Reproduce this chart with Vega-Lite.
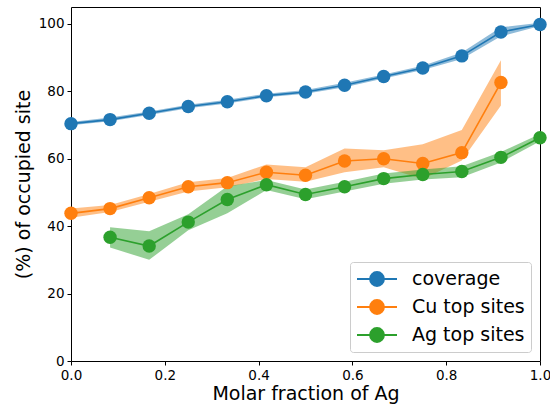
{
  "$schema": "https://vega.github.io/schema/vega-lite/v6.json",
  "width": 469,
  "height": 354,
  "autosize": {"type": "none"},
  "padding": {"left": 71, "top": 7, "right": 10, "bottom": 45},
  "config": {
    "font": "DejaVu Sans",
    "view": {"stroke": "black", "strokeWidth": 1},
    "axis": {
      "grid": false, "domain": false, "tickColor": "black", "tickSize": 4,
      "labelColor": "black", "labelFontSize": 13.5, "labelFont": "DejaVu Sans", "labelPadding": 3,
      "titleFont": "DejaVu Sans", "titleFontSize": 19, "titleFontWeight": "normal", "titleColor": "black"
    }
  },
  "data": {"values": [
    {"s": "coverage", "x": 0.0, "y": 70.4, "lo": 69.9, "hi": 70.9},
    {"s": "coverage", "x": 0.0833, "y": 71.6, "lo": 71.1, "hi": 72.2},
    {"s": "coverage", "x": 0.1667, "y": 73.5, "lo": 73.0, "hi": 74.0},
    {"s": "coverage", "x": 0.25, "y": 75.5, "lo": 75.0, "hi": 76.0},
    {"s": "coverage", "x": 0.3333, "y": 76.9, "lo": 76.4, "hi": 77.5},
    {"s": "coverage", "x": 0.4167, "y": 78.7, "lo": 78.2, "hi": 79.3},
    {"s": "coverage", "x": 0.5, "y": 79.8, "lo": 79.3, "hi": 80.4},
    {"s": "coverage", "x": 0.5833, "y": 81.8, "lo": 81.2, "hi": 82.5},
    {"s": "coverage", "x": 0.6667, "y": 84.4, "lo": 83.8, "hi": 85.0},
    {"s": "coverage", "x": 0.75, "y": 86.9, "lo": 86.3, "hi": 87.6},
    {"s": "coverage", "x": 0.8333, "y": 90.5, "lo": 89.6, "hi": 91.5},
    {"s": "coverage", "x": 0.9167, "y": 97.6, "lo": 96.3, "hi": 99.0},
    {"s": "coverage", "x": 1.0, "y": 99.8, "lo": 99.4, "hi": 100.3},
    {"s": "Cu top sites", "x": 0.0, "y": 43.8, "lo": 42.5, "hi": 45.2},
    {"s": "Cu top sites", "x": 0.0833, "y": 45.2, "lo": 44.2, "hi": 46.3},
    {"s": "Cu top sites", "x": 0.1667, "y": 48.4, "lo": 47.2, "hi": 49.5},
    {"s": "Cu top sites", "x": 0.25, "y": 51.7, "lo": 50.3, "hi": 53.0},
    {"s": "Cu top sites", "x": 0.3333, "y": 52.9, "lo": 51.5, "hi": 54.3},
    {"s": "Cu top sites", "x": 0.4167, "y": 56.0, "lo": 54.0, "hi": 58.3},
    {"s": "Cu top sites", "x": 0.5, "y": 55.1, "lo": 53.2, "hi": 57.5},
    {"s": "Cu top sites", "x": 0.5833, "y": 59.3, "lo": 56.0, "hi": 63.0},
    {"s": "Cu top sites", "x": 0.6667, "y": 60.0, "lo": 57.5, "hi": 62.5},
    {"s": "Cu top sites", "x": 0.75, "y": 58.6, "lo": 54.0, "hi": 64.3},
    {"s": "Cu top sites", "x": 0.8333, "y": 61.8, "lo": 59.5, "hi": 68.5},
    {"s": "Cu top sites", "x": 0.9167, "y": 82.6, "lo": 75.8, "hi": 89.2},
    {"s": "Ag top sites", "x": 0.0833, "y": 36.7, "lo": 33.7, "hi": 39.7},
    {"s": "Ag top sites", "x": 0.1667, "y": 34.1, "lo": 30.0, "hi": 38.5},
    {"s": "Ag top sites", "x": 0.25, "y": 41.2, "lo": 38.8, "hi": 43.5},
    {"s": "Ag top sites", "x": 0.3333, "y": 47.9, "lo": 43.8, "hi": 51.8},
    {"s": "Ag top sites", "x": 0.4167, "y": 52.3, "lo": 50.7, "hi": 53.7},
    {"s": "Ag top sites", "x": 0.5, "y": 49.4, "lo": 48.0, "hi": 50.9},
    {"s": "Ag top sites", "x": 0.5833, "y": 51.7, "lo": 50.3, "hi": 53.2},
    {"s": "Ag top sites", "x": 0.6667, "y": 54.1, "lo": 52.6, "hi": 55.6},
    {"s": "Ag top sites", "x": 0.75, "y": 55.3, "lo": 53.8, "hi": 56.8},
    {"s": "Ag top sites", "x": 0.8333, "y": 56.2, "lo": 54.5, "hi": 57.8},
    {"s": "Ag top sites", "x": 0.9167, "y": 60.4, "lo": 58.9, "hi": 62.0},
    {"s": "Ag top sites", "x": 1.0, "y": 66.2, "lo": 65.2, "hi": 67.3}
  ]},
  "encoding": {
    "x": {"field": "x", "type": "quantitative",
      "scale": {"domain": [0, 1], "nice": false, "zero": false},
      "axis": {"title": "Molar fraction of Ag", "values": [0, 0.2, 0.4, 0.6, 0.8, 1.0], "format": ".1f", "titlePadding": 3, "labelFlush": false}},
    "color": {"field": "s", "type": "nominal",
      "scale": {"domain": ["coverage", "Cu top sites", "Ag top sites"], "range": ["#1f77b4", "#ff7f0e", "#2ca02c"]},
      "legend": {
        "title": null, "orient": "bottom-right", "offset": 9,
        "labelFontSize": 19, "labelFont": "DejaVu Sans", "labelColor": "black",
        "symbolType": "M -2 0 L 2 0 M 0.7 0 A 0.7 0.7 0 1 1 -0.7 0 A 0.7 0.7 0 1 1 0.7 0 Z",
        "symbolSize": 400, "symbolOffset": 10, "labelOffset": 24, "symbolStrokeWidth": 1.8,
        "symbolOpacity": 1, "rowPadding": 6, "padding": 6,
        "strokeColor": "#cccccc", "fillColor": "white", "cornerRadius": 3,
        "encode": {"symbols": {"update": {
          "fill": {"scale": "color", "field": "value"},
          "stroke": {"scale": "color", "field": "value"},
          "opacity": {"value": 1},
          "fillOpacity": {"value": 1},
          "strokeOpacity": {"value": 1}
        }}}
      }}
  },
  "layer": [
    {
      "mark": {"type": "area", "opacity": 0.5},
      "encoding": {
        "y": {"field": "lo", "type": "quantitative",
          "scale": {"domain": [0, 105], "nice": false},
          "axis": {"title": "(%) of occupied site", "values": [0, 20, 40, 60, 80, 100], "titlePadding": 5}},
        "y2": {"field": "hi"}
      }
    },
    {
      "mark": {"type": "line", "strokeWidth": 1.6},
      "encoding": {"y": {"field": "y", "type": "quantitative"}}
    },
    {
      "mark": {"type": "point", "filled": true, "opacity": 1, "size": 180},
      "encoding": {"y": {"field": "y", "type": "quantitative"}}
    }
  ]
}
